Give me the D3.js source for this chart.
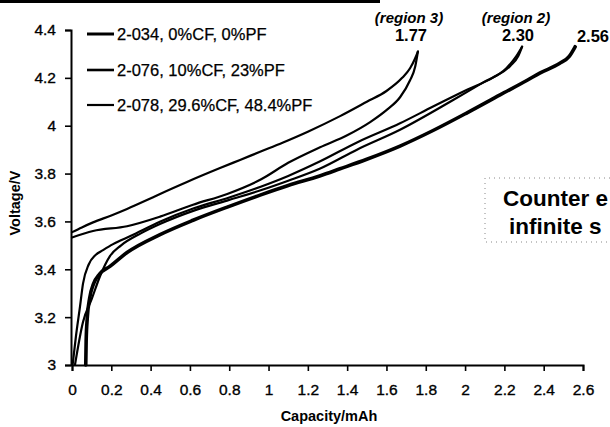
<!DOCTYPE html>
<html><head><meta charset="utf-8">
<script src="https://cdn.jsdelivr.net/npm/d3@7/dist/d3.min.js"></script>
<style>body{margin:0;background:#fff}svg{display:block}</style>
</head><body>
<svg id="c" width="610" height="427"></svg>
<script>
const xTicks = [0,0.2,0.4,0.6,0.8,1,1.2,1.4,1.6,1.8,2,2.2,2.4,2.6];
const yTicks = [3,3.2,3.4,3.6,3.8,4,4.2,4.4];
const legendLabels = ["2-034, 0%CF, 0%PF","2-076, 10%CF, 23%PF","2-078, 29.6%CF, 48.4%PF"];

// 2-034 (ends 2.56)
const s034 = [[0.07,3.0],[0.072,3.1],[0.078,3.2],[0.09,3.28],[0.11,3.34],[0.14,3.38],[0.193,3.412],[0.28,3.47],[0.448,3.545],[0.616,3.605],[0.79,3.66],[0.957,3.71],[1.1,3.75],[1.26,3.79],[1.364,3.82],[1.5,3.86],[1.669,3.915],[1.837,3.98],[2.01,4.054],[2.178,4.129],[2.316,4.19],[2.38,4.22],[2.48,4.26],[2.53,4.29],[2.56,4.33]];
// 2-076 (ends 2.30), two cycles
const s076a = [[0.003,3.0],[0.02,3.12],[0.041,3.246],[0.056,3.34],[0.085,3.42],[0.12,3.46],[0.158,3.48],[0.209,3.505],[0.3,3.54],[0.45,3.6],[0.62,3.655],[0.8,3.7],[0.96,3.745],[1.1,3.79],[1.26,3.85],[1.45,3.93],[1.669,4.01],[1.837,4.08],[2.01,4.15],[2.14,4.2],[2.23,4.25],[2.27,4.29],[2.29,4.33]];
const s076b = [[0.015,3.0],[0.056,3.18],[0.1,3.275],[0.142,3.37],[0.193,3.455],[0.25,3.5],[0.35,3.55],[0.45,3.59],[0.62,3.645],[0.8,3.69],[0.96,3.73],[1.1,3.77],[1.26,3.82],[1.45,3.9],[1.669,3.983],[1.924,4.1],[2.09,4.18],[2.21,4.24],[2.26,4.29],[2.29,4.33]];
// 2-078 (ends 1.77), two cycles
const s078a = [[0,3.555],[0.05,3.575],[0.107,3.596],[0.2,3.625],[0.28,3.652],[0.37,3.685],[0.448,3.715],[0.585,3.765],[0.75,3.822],[0.855,3.857],[0.96,3.892],[1.074,3.93],[1.2,3.975],[1.364,4.04],[1.5,4.1],[1.6,4.145],[1.68,4.2],[1.72,4.24],[1.745,4.28],[1.76,4.31]];
const s078b = [[0,3.533],[0.107,3.56],[0.28,3.58],[0.448,3.62],[0.616,3.67],[0.79,3.715],[0.96,3.775],[1.1,3.845],[1.262,3.91],[1.4,3.96],[1.517,4.015],[1.603,4.067],[1.67,4.12],[1.72,4.19],[1.746,4.246],[1.76,4.31]];

const svg = d3.select("#c");
svg.append("rect").attr("width",610).attr("height",427).attr("fill","#fff");
const F = "'Liberation Sans', Arial, sans-serif";

const x = d3.scaleLinear().domain([0,2.6]).range([72,583]);
const y = d3.scaleLinear().domain([3,4.4]).range([365,30]);

// scan border at top
svg.append("line").attr("x1",0).attr("x2",380).attr("y1",1.5).attr("y2",1.5).attr("stroke","#000").attr("stroke-width",3);

// axes
const xa = svg.append("g").attr("transform","translate(0,365)")
  .call(d3.axisBottom(x).tickValues(xTicks).tickSize(6).tickPadding(13).tickFormat(d3.format("~g")));
const ya = svg.append("g").attr("transform","translate(71,0)")
  .call(d3.axisLeft(y).tickValues(yTicks).tickSize(6).tickPadding(9).tickFormat(d3.format("~g")));
[xa,ya].forEach(g=>{
  g.attr("font-size",null).attr("font-family",null);
  g.select(".domain").attr("stroke","#000").attr("stroke-width",2);
  g.selectAll(".tick line").attr("stroke","#000").attr("stroke-width",1.6);
  g.selectAll("text").style("font-family",F).style("font-size","15.5px").attr("fill","#000")
    .attr("stroke","#000").attr("stroke-width",0.35);
});

// curves
const line = d3.line().x(d=>x(d[0])).y(d=>y(d[1])).curve(d3.curveMonotoneX);
const series = [
  {d:s076a,w:2.2},{d:s076b,w:2.2},{d:s078a,w:2.2},{d:s078b,w:2.2},{d:s034,w:3.6}
];
svg.append("g").selectAll("path").data(series).join("path")
  .attr("d",s=>line(s.d)).attr("fill","none").attr("stroke","#000")
  .attr("stroke-width",s=>s.w).attr("stroke-linejoin","round").attr("stroke-linecap","round");

// legend
const lg = svg.append("g").selectAll("g").data(legendLabels).join("g")
  .attr("transform",(d,i)=>`translate(0,${[34,70,105][i]})`);
lg.append("line").attr("x1",87).attr("x2",114).attr("stroke","#000").attr("stroke-width",(d,i)=>[3,2.6,2.2][i]);
lg.append("text").attr("x",117).attr("y",6).text(d=>d)
  .style("font-family",F).style("font-size","16.5px").attr("fill","#000")
  .attr("stroke","#000").attr("stroke-width",0.25);

// annotations
const ann = [
  {t:"(region 3)",x:409,y:23,s:15,it:true},
  {t:"1.77",x:411,y:41,s:16.5},
  {t:"(region 2)",x:516,y:23,s:15,it:true},
  {t:"2.30",x:518,y:41,s:16.5},
  {t:"2.56",x:593,y:42,s:16.5}
];
svg.append("g").selectAll("text").data(ann).join("text")
  .attr("x",d=>d.x).attr("y",d=>d.y).attr("text-anchor","middle")
  .style("font-family",F).attr("font-weight","bold").attr("font-style",d=>d.it?"italic":"normal")
  .style("font-size",d=>d.s+"px").text(d=>d.t);

// counter electrode box (cut off at the right edge in the source)
svg.append("path").attr("d","M700,178 H485 V242 H700")
  .attr("fill","none").attr("stroke","#888").attr("stroke-width",1).attr("stroke-dasharray","1,4");
svg.append("text").attr("x",503).attr("y",206).style("font-family",F).attr("font-weight","bold")
  .style("font-size","22.5px").text("Counter e");
svg.append("text").attr("x",509).attr("y",234).style("font-family",F).attr("font-weight","bold")
  .style("font-size","22.5px").text("infinite s");

// axis titles
svg.append("text").attr("x",329).attr("y",421).attr("text-anchor","middle")
  .style("font-family",F).attr("font-weight","bold").style("font-size","14.5px").text("Capacity/mAh");
svg.append("text").attr("transform","translate(20,203) rotate(-90)").attr("text-anchor","middle")
  .style("font-family",F).attr("font-weight","bold").style("font-size","14.5px").text("Voltage/V");
</script>
</body></html>
